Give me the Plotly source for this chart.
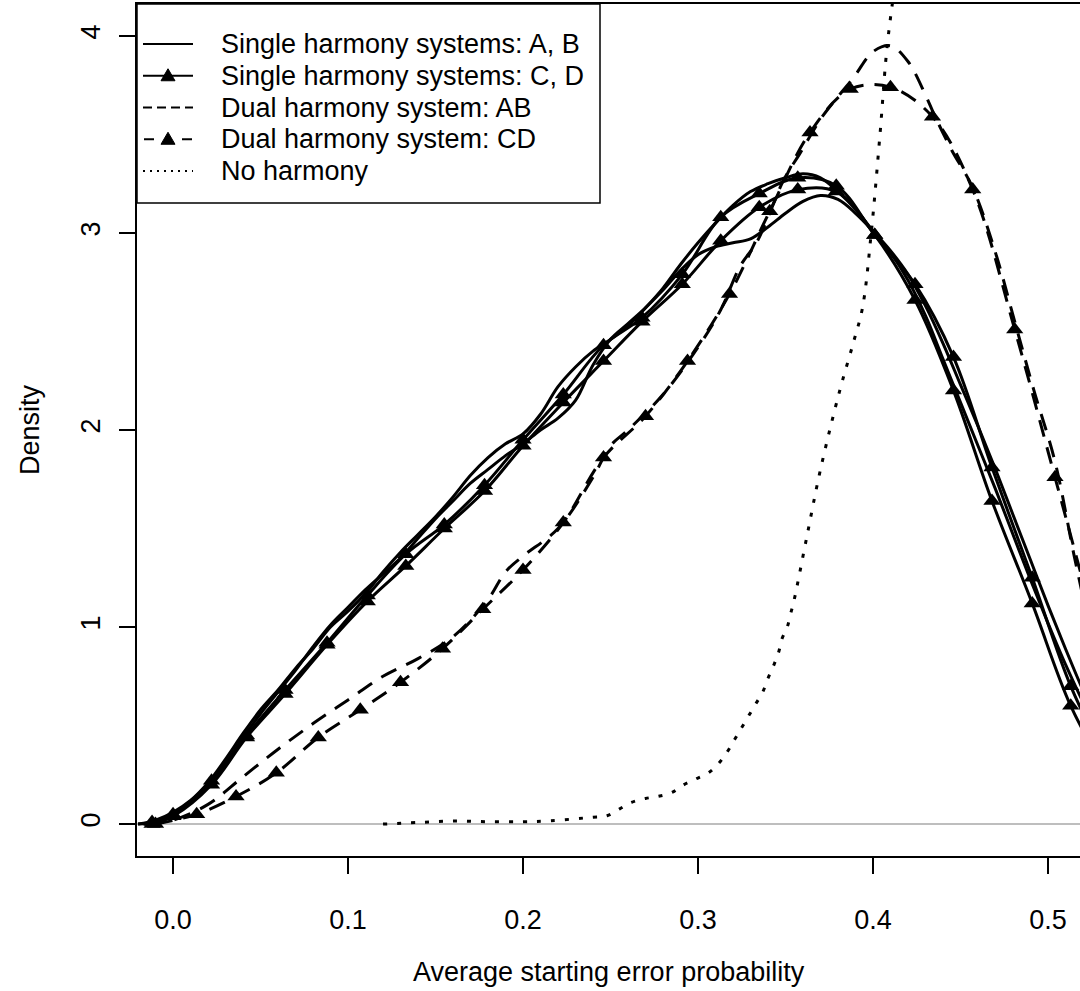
import plotly.graph_objects as go

# ---------------- data ----------------
# Single harmony system A (solid, no markers)
x_a = [-0.02, -0.01, 0.0, 0.01, 0.02, 0.03, 0.04, 0.05, 0.06, 0.07, 0.08, 0.09, 0.10, 0.11, 0.12,
       0.13, 0.14, 0.15, 0.16, 0.17, 0.18, 0.19, 0.20, 0.21, 0.22, 0.23, 0.24, 0.25, 0.26, 0.27,
       0.28, 0.29, 0.30, 0.31, 0.32, 0.33, 0.34, 0.35, 0.36, 0.37, 0.38, 0.39, 0.40, 0.41, 0.42,
       0.43, 0.44, 0.45, 0.46, 0.47, 0.48, 0.49, 0.50, 0.51, 0.52, 0.53]
y_a = [0.0, 0.02, 0.06, 0.12, 0.21, 0.33, 0.46, 0.58, 0.68, 0.79, 0.89, 1.00, 1.08, 1.17, 1.28,
       1.38, 1.47, 1.56, 1.66, 1.77, 1.86, 1.93, 1.98, 2.08, 2.22, 2.32, 2.40, 2.46, 2.53, 2.62,
       2.72, 2.84, 2.95, 3.05, 3.14, 3.21, 3.25, 3.28, 3.30, 3.28, 3.21, 3.12, 3.01, 2.90, 2.76,
       2.58, 2.36, 2.14, 1.92, 1.70, 1.47, 1.24, 1.02, 0.81, 0.62, 0.45]

# Single harmony system B (solid, no markers)
x_b = x_a
y_b = [0.0, 0.01, 0.05, 0.11, 0.20, 0.31, 0.44, 0.56, 0.67, 0.78, 0.90, 1.01, 1.10, 1.19, 1.27,
       1.35, 1.45, 1.55, 1.64, 1.73, 1.80, 1.87, 1.93, 2.00, 2.06, 2.15, 2.33, 2.46, 2.54, 2.62,
       2.71, 2.81, 2.89, 2.93, 2.95, 2.97, 3.03, 3.10, 3.16, 3.19, 3.17, 3.10, 3.01, 2.91, 2.79,
       2.63, 2.44, 2.23, 2.02, 1.80, 1.57, 1.34, 1.11, 0.89, 0.68, 0.50]

# Single harmony systems C and D (solid with triangles)
x_cd = [-0.012, 0.0, 0.022, 0.042, 0.064, 0.088, 0.111, 0.133, 0.155, 0.178, 0.200, 0.223,
        0.246, 0.268, 0.291, 0.313, 0.335, 0.357, 0.379, 0.401, 0.424, 0.446, 0.468, 0.491,
        0.513, 0.535]
y_c = [0.01, 0.05, 0.22, 0.45, 0.68, 0.92, 1.16, 1.37, 1.52, 1.72, 1.95, 2.18,
       2.43, 2.57, 2.79, 3.08, 3.20, 3.28, 3.24, 2.99, 2.74, 2.37, 1.81, 1.25,
       0.70, 0.30]
y_d = [0.0, 0.04, 0.20, 0.44, 0.66, 0.91, 1.13, 1.31, 1.50, 1.69, 1.92, 2.14,
       2.35, 2.55, 2.74, 2.96, 3.13, 3.22, 3.21, 2.99, 2.66, 2.20, 1.64, 1.12,
       0.60, 0.24]

# Dual harmony system AB (dashed, no markers)
x_ab = [-0.015, 0.0, 0.02, 0.04, 0.06, 0.08, 0.10, 0.12, 0.14, 0.16, 0.18, 0.19, 0.20, 0.22,
        0.24, 0.25, 0.26, 0.28, 0.30, 0.313, 0.324, 0.334, 0.349, 0.358, 0.371, 0.389, 0.40,
        0.41, 0.42, 0.43, 0.435, 0.445, 0.457, 0.47, 0.481, 0.492, 0.504, 0.515, 0.525]
y_ab = [0.0, 0.02, 0.10, 0.24, 0.38, 0.51, 0.63, 0.75, 0.84, 0.95, 1.14, 1.28, 1.36, 1.50,
        1.76, 1.92, 2.00, 2.18, 2.42, 2.61, 2.83, 2.96, 3.27, 3.40, 3.59, 3.79, 3.92,
        3.95, 3.87, 3.70, 3.60, 3.42, 3.23, 2.90, 2.55, 2.20, 1.84, 1.36, 0.95]

# Dual harmony system CD (dashed with triangles)
x_cd2 = [-0.01, 0.0135, 0.036, 0.059, 0.083, 0.107, 0.130, 0.154, 0.177, 0.200, 0.223, 0.246,
         0.270, 0.294, 0.318, 0.341, 0.364, 0.387, 0.410, 0.434, 0.457, 0.481, 0.504, 0.527]
y_cd2 = [0.0, 0.05, 0.14, 0.26, 0.44, 0.58, 0.72, 0.89, 1.09, 1.29, 1.53, 1.86,
         2.07, 2.35, 2.69, 3.11, 3.51, 3.73, 3.74, 3.59, 3.22, 2.51, 1.76, 1.00]

# No harmony (dotted)
x_none = [0.12, 0.14, 0.16, 0.18, 0.20, 0.216, 0.24, 0.248, 0.255, 0.262, 0.27, 0.277, 0.285,
          0.292, 0.299, 0.306, 0.312, 0.317, 0.321, 0.325, 0.329, 0.333, 0.337, 0.340, 0.343,
          0.346, 0.348, 0.351, 0.353, 0.355, 0.362, 0.370, 0.381, 0.389, 0.394, 0.399, 0.404,
          0.408, 0.413, 0.418]
y_none = [0.0, 0.008, 0.015, 0.012, 0.012, 0.017, 0.035, 0.042, 0.076, 0.11, 0.13, 0.14, 0.16,
          0.20, 0.23, 0.26, 0.31, 0.37, 0.43, 0.49, 0.55, 0.61, 0.67, 0.74, 0.80,
          0.87, 0.94, 1.00, 1.07, 1.14, 1.45, 1.80, 2.20, 2.45, 2.62, 3.00, 3.50,
          3.94, 4.30, 4.70]

x_ticks = [0.0, 0.1, 0.2, 0.3, 0.4, 0.5]
x_tick_labels = ["0.0", "0.1", "0.2", "0.3", "0.4", "0.5"]
y_ticks = [0, 1, 2, 3, 4]
y_tick_labels = ["0", "1", "2", "3", "4"]

legend_names = ["Single harmony systems: A, B", "Single harmony systems: C, D",
                "Dual harmony system: AB", "Dual harmony system: CD", "No harmony"]
x_title = "Average starting error probability"
y_title = "Density"

# ---------------- styling ----------------
FONT = "Liberation Sans, Arial, Helvetica, sans-serif"
FS = 27
LW = 3
DASH = "17px,11px"
DOT = "4px,10px"
TRI = dict(symbol="triangle-up", size=15, color="black")

W, H = 1080, 991
ML, MR, MT, MB = 137, 0, 4, 135
PW, PH = W - ML - MR, H - MT - MB


def px_x(px):
    return (px - ML) / PW


def px_y(py):
    return (H - MB - py) / PH


fig = go.Figure()

fig.add_trace(go.Scatter(x=x_a, y=y_a, mode="lines", name=legend_names[0],
                         line=dict(color="black", width=LW, shape="spline", smoothing=1)))
fig.add_trace(go.Scatter(x=x_b, y=y_b, mode="lines", name=legend_names[0],
                         line=dict(color="black", width=LW, shape="spline", smoothing=1)))
fig.add_trace(go.Scatter(x=x_cd, y=y_c, mode="lines+markers", name=legend_names[1],
                         line=dict(color="black", width=LW, shape="spline", smoothing=1), marker=TRI))
fig.add_trace(go.Scatter(x=x_cd, y=y_d, mode="lines+markers", name=legend_names[1],
                         line=dict(color="black", width=LW, shape="spline", smoothing=1), marker=TRI))
fig.add_trace(go.Scatter(x=x_ab, y=y_ab, mode="lines", name=legend_names[2],
                         line=dict(color="black", width=LW, dash=DASH, shape="spline", smoothing=1)))
fig.add_trace(go.Scatter(x=x_cd2, y=y_cd2, mode="lines+markers", name=legend_names[3],
                         line=dict(color="black", width=LW, dash=DASH, shape="spline", smoothing=1),
                         marker=TRI))
fig.add_trace(go.Scatter(x=x_none, y=y_none, mode="lines", name=legend_names[4],
                         line=dict(color="black", width=LW, dash=DOT, shape="spline", smoothing=1)))

# ---------------- legend (drawn as R-style box) ----------------
shapes = []
annotations = []
shapes.append(dict(type="rect", xref="paper", yref="paper",
                   x0=px_x(137), x1=px_x(600), y0=px_y(203), y1=px_y(4),
                   line=dict(color="black", width=1.5), fillcolor="white", layer="above"))
# (line dash, has triangle)
leg_styles = [("solid", False), ("solid", True), ("9px,5px", False), ("9px,5px", True), ("2px,5px", False)]
row0, row_step = 44, 31.75
for i, (name, (dash, tri)) in enumerate(zip(legend_names, leg_styles)):
    yc = px_y(row0 + i * row_step)
    if tri and dash != "solid":
        for a, b in [(144, 154), (182, 192)]:
            shapes.append(dict(type="line", xref="paper", yref="paper",
                               x0=px_x(a), x1=px_x(b), y0=yc, y1=yc,
                               line=dict(color="black", width=2), layer="above"))
    else:
        shapes.append(dict(type="line", xref="paper", yref="paper",
                           x0=px_x(143), x1=px_x(193), y0=yc, y1=yc,
                           line=dict(color="black", width=2, dash=dash), layer="above"))
    if tri:
        shapes.append(dict(type="path", xref="paper", yref="paper",
                           xsizemode="pixel", ysizemode="pixel",
                           xanchor=px_x(168), yanchor=yc,
                           path="M-7,-5 L7,-5 L0,7 Z",
                           fillcolor="black", line=dict(color="black", width=1), layer="above"))
    annotations.append(dict(text=name, xref="paper", yref="paper", x=px_x(219), y=yc,
                            xanchor="left", yanchor="middle", showarrow=False,
                            font=dict(family=FONT, size=FS, color="black")))

# axis titles placed like R's mtext lines
annotations.append(dict(text=x_title, xref="paper", yref="paper", x=0.5, y=px_y(972),
                        xanchor="center", yanchor="middle", showarrow=False,
                        font=dict(family=FONT, size=FS, color="black")))
annotations.append(dict(text=y_title, xref="paper", yref="paper", x=px_x(30), y=0.5,
                        xanchor="center", yanchor="middle", showarrow=False, textangle=-90,
                        font=dict(family=FONT, size=FS, color="black")))

fig.update_layout(
    width=W, height=H,
    margin=dict(l=ML, r=MR, t=MT, b=MB),
    paper_bgcolor="white", plot_bgcolor="white",
    font=dict(family=FONT, size=FS, color="black"),
    showlegend=False,
    shapes=shapes,
    annotations=annotations,
)

fig.update_xaxes(
    range=[-0.0206, 0.5183], tickmode="array", tickvals=x_ticks, ticktext=x_tick_labels,
    showgrid=False, zeroline=False, showline=True, linecolor="black", linewidth=1.5,
    mirror=True, ticks="outside", ticklen=16, tickwidth=1.5, tickcolor="black",
    ticklabelstandoff=23,
    tickfont=dict(family=FONT, size=FS, color="black"),
)
fig.update_yaxes(
    range=[-0.162, 4.162], tickmode="array", tickvals=y_ticks, ticktext=y_tick_labels,
    tickangle=-90,
    showgrid=False, zeroline=True, zerolinecolor="#bebebe", zerolinewidth=1.5,
    showline=True, linecolor="black", linewidth=1.5,
    ticks="outside", ticklen=16, tickwidth=1.5, tickcolor="black",
    ticklabelstandoff=8,
    tickfont=dict(family=FONT, size=FS, color="black"),
)

fig.write_html("out.html")
